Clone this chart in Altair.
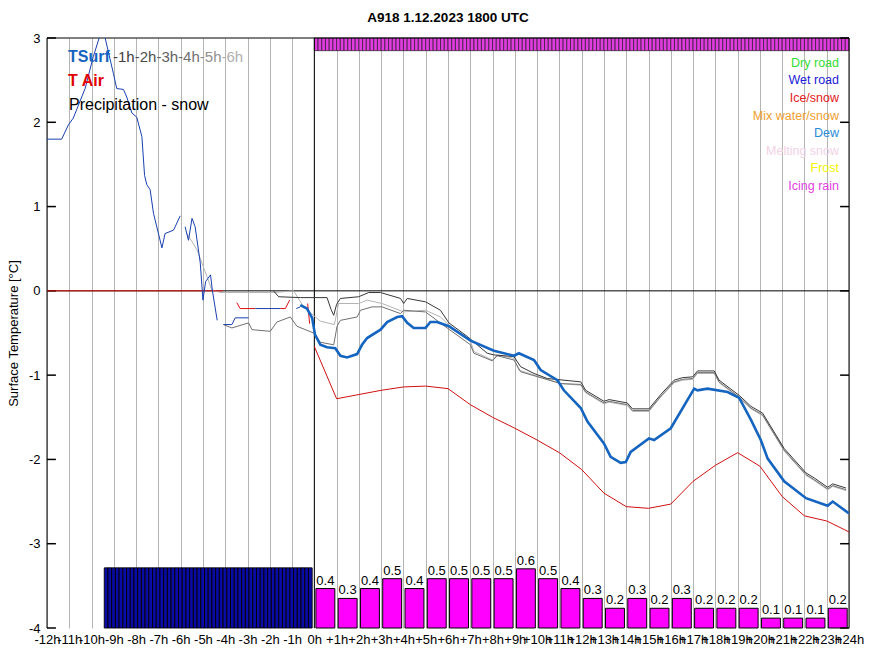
import altair as alt
import pandas as pd

# ---------------- data ----------------
# forecast surface temperature (thick blue)
tsurf_fc_h = [-0.63, -0.33, -0.10, 0.03, 0.27, 0.57, 0.94, 1.17, 1.47, 1.92, 2.14, 2.37, 2.97, 3.27, 3.72, 3.94,
              4.17, 4.46, 4.99, 5.21, 5.51, 6.04, 7.01, 8.06, 8.96, 9.18, 9.86, 10.16, 10.91, 11.20, 11.96, 12.26,
              13.00, 13.30, 13.75, 13.98, 14.20, 15.02, 15.25, 16.00, 17.05, 17.20, 17.65, 18.55, 19.07, 19.60,
              20.04, 20.35, 21.09, 22.07, 23.04, 23.27, 24.0]
tsurf_fc_v = [-0.17, -0.21, -0.32, -0.52, -0.64, -0.67, -0.68, -0.77, -0.79, -0.75, -0.64, -0.56, -0.46, -0.37,
              -0.31, -0.30, -0.38, -0.44, -0.44, -0.37, -0.37, -0.42, -0.59, -0.71, -0.77, -0.74, -0.82, -0.94,
              -1.06, -1.18, -1.39, -1.55, -1.81, -1.97, -2.04, -2.03, -1.91, -1.75, -1.77, -1.63, -1.16, -1.18,
              -1.16, -1.20, -1.27, -1.53, -1.77, -1.99, -2.26, -2.46, -2.55, -2.50, -2.64]

# observed surface temperature (thin blue, with gaps)
obs_h = [-12.0, -11.34, -11.04, -10.82, -10.29, -9.92, -9.6, -9.39, -9.02, -8.87, -8.57, -8.42, -8.19, -7.97,
         -7.74, -7.62, -7.52, -7.37, -7.22, -6.84, -6.70, -6.32, -6.02,
         -5.80, -5.65, -5.49, -5.35, -5.12, -5.0, -4.88, -4.66, -4.58, -4.36,
         -4.08, -3.70, -3.55, -2.95,
         -2.65, -1.53,
         -0.81, -0.63]
obs_v = [1.80, 1.80, 1.97, 2.05, 2.40, 2.78, 3.05, 3.0, 2.58, 2.40, 2.39, 2.30, 2.11, 2.06,
         1.83, 1.37, 1.26, 1.20, 0.92, 0.51, 0.68, 0.72, 0.89,
         0.76, 0.60, 0.86, 0.76, 0.33, -0.11, 0.11, 0.19, 0.01, -0.35,
         -0.40, -0.40, -0.32, -0.32,
         -0.21, -0.21,
         -0.21, -0.19]
obs_seg = [1] * 23 + [2] * 10 + [3] * 4 + [4] * 2 + [5] * 2

# air temperature forecast (red), hourly 0h..24h
air_fc_h = list(range(0, 25))
air_fc_v = [-0.66, -1.28, -1.23, -1.18, -1.14, -1.13, -1.16, -1.35, -1.50, -1.63, -1.77, -1.92, -2.12, -2.40,
            -2.56, -2.58, -2.53, -2.26, -2.07, -1.92, -2.08, -2.44, -2.67, -2.73, -2.86]

# observed air temperature (red, with gaps)
air_obs_h = [-12.0, -4.1, -3.48, -3.33, -2.65, -1.53, -1.30, -1.11, -0.30, -0.21]
air_obs_v = [0.0, 0.0, -0.14, -0.21, -0.21, -0.21, -0.21, -0.11, -0.15, -0.39]
air_obs_seg = [1, 1, 2, 2, 2, 3, 3, 3, 4, 4]

# earlier forecasts (grey)
dark_h = [-1.83, -1.60, -0.63, 0.57, 0.75, 0.87, 1.0, 1.17, 1.99, 2.44, 2.97, 3.87, 4.01, 4.17, 4.99, 5.66, 6.04, 6.86,
          7.76, 8.06, 8.96, 9.26, 9.86, 10.46, 11.96, 12.18, 13.0, 13.23, 14.05, 14.28, 15.02, 15.55, 16.15,
          16.53, 16.98, 17.2, 17.95, 18.17, 19.07, 19.6, 20.12, 21.09, 22.07, 22.44, 23.04, 23.27, 23.87]
dark_v = [0.0, -0.07, -0.08, -0.08, -0.22, -0.29, -0.16, -0.09, -0.07, -0.02, -0.02, -0.09, -0.15, -0.09, -0.13, -0.23, -0.38,
          -0.54, -0.74, -0.76, -0.78, -0.90, -0.98, -1.04, -1.08, -1.18, -1.31, -1.29, -1.33, -1.40, -1.40, -1.23,
          -1.06, -1.03, -1.02, -0.95, -0.95, -1.06, -1.24, -1.37, -1.45, -1.87, -2.16, -2.22, -2.33, -2.29, -2.34]

light_h = [-5.72, -5.27, -4.82, -4.60, -4.20, -1.80, -0.93, -0.48, 0.0, 0.27, 0.90, 1.09, 1.99, 2.37, 3.04, 4.01,
           4.99, 5.66, 6.02, 7.01, 7.16, 7.99, 8.21, 8.96, 9.18, 11.06, 11.96, 12.18, 13.0, 13.23, 14.05, 14.28,
           15.02, 15.55, 16.15, 16.53, 16.98, 17.2, 17.95, 18.17, 19.07, 19.6, 20.12, 21.09, 22.07, 22.44, 23.04,
           23.27, 23.87]
light_v = [0.68, 0.49, 0.17, 0.01, -0.02, -0.02, 0.0, -0.19, -0.30, -0.36, -0.40, -0.15, -0.15, -0.11, -0.15,
           -0.25, -0.23, -0.31, -0.40, -0.60, -0.72, -0.82, -0.76, -0.80, -0.94, -1.10, -1.12, -1.21, -1.34, -1.32,
           -1.36, -1.43, -1.43, -1.26, -1.09, -1.06, -1.05, -0.98, -0.98, -1.09, -1.27, -1.40, -1.48, -1.90, -2.19,
           -2.25, -2.36, -2.32, -2.37]

mid_h = [-4.08, -3.70, -2.95, -2.80, -1.98, -1.68, -1.08, -0.78, -0.03, 0.27, 0.87, 1.02, 1.17, 1.92, 2.07, 2.59,
         3.04, 3.87, 4.01, 4.99, 5.96, 7.01, 7.16, 7.99, 8.21, 8.96, 9.26, 11.06, 11.96, 12.18, 13.0, 13.23, 14.05,
         14.28, 15.02, 15.55, 16.15, 16.53, 16.98, 17.2, 17.95, 18.17, 19.07, 19.6, 20.12, 21.09, 22.07, 22.44,
         23.04, 23.27, 23.87]
mid_v = [-0.40, -0.44, -0.38, -0.46, -0.48, -0.37, -0.31, -0.42, -0.50, -0.61, -0.64, -0.42, -0.35, -0.31, -0.23,
         -0.19, -0.19, -0.27, -0.23, -0.25, -0.44, -0.64, -0.74, -0.83, -0.77, -0.82, -0.96, -1.10, -1.11, -1.20,
         -1.33, -1.31, -1.35, -1.42, -1.42, -1.25, -1.08, -1.05, -1.04, -0.97, -0.97, -1.08, -1.26, -1.39, -1.47,
         -1.89, -2.18, -2.24, -2.35, -2.31, -2.36]

# forecast precipitation (mm / h), bars at 0h .. +23h
precip_fc = [0.4, 0.3, 0.4, 0.5, 0.4, 0.5, 0.5, 0.5, 0.5, 0.6, 0.5, 0.4, 0.3, 0.2, 0.3, 0.2, 0.3, 0.2, 0.2,
             0.2, 0.1, 0.1, 0.1, 0.2]
# observed precipitation (10 min steps from -9h26m)
hist_start = -9.43
precip_hist = [0.61] * 56
# forecast road condition, 10 min steps from 0h
road_cond = ["Icing rain"] * 144

legend_road = ["Dry road", "Wet road", "Ice/snow", "Mix water/snow", "Dew", "Melting snow", "Frost", "Icing rain"]
legend_road_col = ["#33dd33", "#1a1ad8", "#e52020", "#f0a030", "#2a8ad8", "#f2d2e6", "#f5f500", "#e040e0"]
legend_hist = ["-1h", "-2h", "-3h", "-4h", "-5h", "-6h"]
legend_hist_col = ["#404040", "#505050", "#606060", "#707070", "#909090", "#b0b0b0"]

MM_TO_AXIS = 1.17  # 1 mm of precipitation in temperature-axis units

# ---------------- frames ----------------
def line_df(h, v, seg=None):
    return pd.DataFrame({"h": h, "v": v, "seg": seg if seg is not None else [0] * len(h)})

fc_bars = pd.DataFrame({
    "h": [i + 0.07 for i in range(len(precip_fc))],
    "h2": [i + 0.92 for i in range(len(precip_fc))],
    "hc": [i + 0.495 for i in range(len(precip_fc))],
    "v": [-4 + p * MM_TO_AXIS for p in precip_fc],
    "v2": [-4.0] * len(precip_fc),
    "label": [f"{p:.1f}" for p in precip_fc],
})
hist_bars = pd.DataFrame({
    "h": [hist_start + k / 6 for k in range(len(precip_hist))],
    "h2": [hist_start + (k + 1) / 6 for k in range(len(precip_hist))],
    "v": [-4 + p * MM_TO_AXIS for p in precip_hist],
    "v2": [-4.0] * len(precip_hist),
})
strip = pd.DataFrame({
    "h": [k / 6 for k in range(len(road_cond))],
    "h2": [(k + 1) / 6 for k in range(len(road_cond))],
    "v": [3.0] * len(road_cond),
    "v2": [2.85] * len(road_cond),
    "cond": road_cond,
})

W, H = 802, 590
FONT = "Liberation Sans"
x_scale = alt.Scale(domain=[-12, 24], nice=False, zero=False)
y_scale = alt.Scale(domain=[-4, 3], nice=False, zero=False)
x_axis = alt.Axis(values=list(range(-12, 25)),
                  labelExpr="datum.value > 0 ? '+' + datum.value + 'h' : datum.value + 'h'",
                  grid=True, gridColor="#b4b4b4", gridWidth=1, domain=False, ticks=False,
                  labelFontSize=13, labelFont=FONT, labelColor="black", labelPadding=5,
                  labelOverlap=False, labelFlush=False, labelBound=False, title=None)
y_axis = alt.Axis(values=list(range(-4, 4)), labelExpr="'' + datum.value", grid=False, domain=False,
                  ticks=False, labelFontSize=13, labelFont=FONT, labelColor="black", labelPadding=7,
                  labelOverlap=False, labelFlush=False, title="Surface Temperature [°C]", titleFont=FONT,
                  titleFontSize=13, titleFontWeight="normal", titleColor="black", titlePadding=8)
X = alt.X("h:Q", scale=x_scale, axis=x_axis)
Y = alt.Y("v:Q", scale=y_scale, axis=y_axis)


def line(df, color, width):
    return alt.Chart(df).mark_line(color=color, strokeWidth=width, clip=True).encode(
        x=X, y=Y, detail="seg:N")


def rules(df, color="black", width=1):
    enc = {"x": X, "y": Y}
    if "h2" in df.columns:
        enc["x2"] = "h2:Q"
    if "v2" in df.columns:
        enc["y2"] = "v2:Q"
    return alt.Chart(df).mark_rule(color=color, strokeWidth=width).encode(**enc)


layers = []
# bars
layers.append(alt.Chart(hist_bars).mark_rect(color="#0a0aa6", stroke="black", strokeWidth=0.9).encode(
    x=X, x2="h2:Q", y=Y, y2="v2:Q"))
layers.append(alt.Chart(fc_bars).mark_rect(color="#ff00ff", stroke="black", strokeWidth=1).encode(
    x=X, x2="h2:Q", y=Y, y2="v2:Q"))
layers.append(alt.Chart(fc_bars).mark_text(baseline="bottom", dy=-1, fontSize=13, font=FONT,
                                           color="black").encode(
    x=alt.X("hc:Q", scale=x_scale, axis=x_axis), y=Y, text="label:N"))
layers.append(alt.Chart(strip).mark_rect(color="#e03ce0", stroke="#3a203a", strokeWidth=0.8).encode(
    x=X, x2="h2:Q", y=Y, y2="v2:Q"))

# frame, zero line, 0h line, inward ticks
layers.append(rules(pd.DataFrame({"h": [-12.0], "h2": [24.0], "v": [0.0]})))
layers.append(rules(pd.DataFrame({"h": [0.0], "v": [-4.0], "v2": [3.0]})))
layers.append(rules(pd.DataFrame({"h": [-12.0, 24.0], "v": [-4.0, -4.0], "v2": [3.0, 3.0]})))
layers.append(rules(pd.DataFrame({"h": [-12.0], "h2": [24.0], "v": [3.0]})))
ticks_v = list(range(-4, 4))
layers.append(rules(pd.DataFrame({"h": [-12.0] * 8, "h2": [-11.6] * 8, "v": ticks_v}), width=1.5))
layers.append(rules(pd.DataFrame({"h": [23.6] * 8, "h2": [24.0] * 8, "v": ticks_v}), width=1.5))

# lines
layers.append(line(line_df(light_h, light_v), "#b4b4b4", 1))
layers.append(line(line_df(mid_h, mid_v), "#707070", 1))
layers.append(line(line_df(dark_h, dark_v), "#383838", 1))
layers.append(line(line_df(air_obs_h, air_obs_v, air_obs_seg), "#dd1010", 1))
layers.append(line(line_df(air_fc_h, air_fc_v), "#d01010", 1))
layers.append(line(line_df(obs_h, obs_v, obs_seg), "#1a40b0", 1))
layers.append(line(line_df(tsurf_fc_h, tsurf_fc_v), "#1565c0", 2.6))

# legends / annotations
dummy = pd.DataFrame({"k": [0]})
layers.append(alt.Chart(dummy).mark_text(text="A918 1.12.2023 1800 UTC", font=FONT, fontSize=13.5,
                                         fontWeight="bold", align="center", baseline="alphabetic",
                                         color="black").encode(x=alt.value(W / 2), y=alt.value(-16)))
layers.append(alt.Chart(dummy).mark_text(text="TSurf", font=FONT, fontSize=16, fontWeight="bold",
                                         align="left", baseline="alphabetic", color="#1565c0").encode(
    x=alt.value(21), y=alt.value(24)))
for i, (t, c) in enumerate(zip(legend_hist, legend_hist_col)):
    layers.append(alt.Chart(dummy).mark_text(text=t, font=FONT, fontSize=15, align="left",
                                             baseline="alphabetic", color=c).encode(
        x=alt.value(66 + i * 21.7), y=alt.value(24)))
layers.append(alt.Chart(dummy).mark_text(text="T Air", font=FONT, fontSize=16, fontWeight="bold",
                                         align="left", baseline="alphabetic", color="#e00000").encode(
    x=alt.value(21), y=alt.value(48)))
layers.append(alt.Chart(dummy).mark_text(text="Precipitation - snow", font=FONT, fontSize=16,
                                         align="left", baseline="alphabetic", color="black").encode(
    x=alt.value(22), y=alt.value(72)))
for i, (t, c) in enumerate(zip(legend_road, legend_road_col)):
    layers.append(alt.Chart(dummy).mark_text(text=t, font=FONT, fontSize=12.5, align="right",
                                             baseline="alphabetic", color=c).encode(
        x=alt.value(792), y=alt.value(28.8 + i * 17.6)))

chart = alt.layer(*layers).properties(
    width=W, height=H,
    autosize=alt.AutoSizeParams(type="none"),
    padding={"left": 47, "top": 38, "right": 22, "bottom": 26},
    background="white",
).configure_view(strokeOpacity=0)

chart.save("out.html", embed_options={"renderer": "svg", "actions": False})
